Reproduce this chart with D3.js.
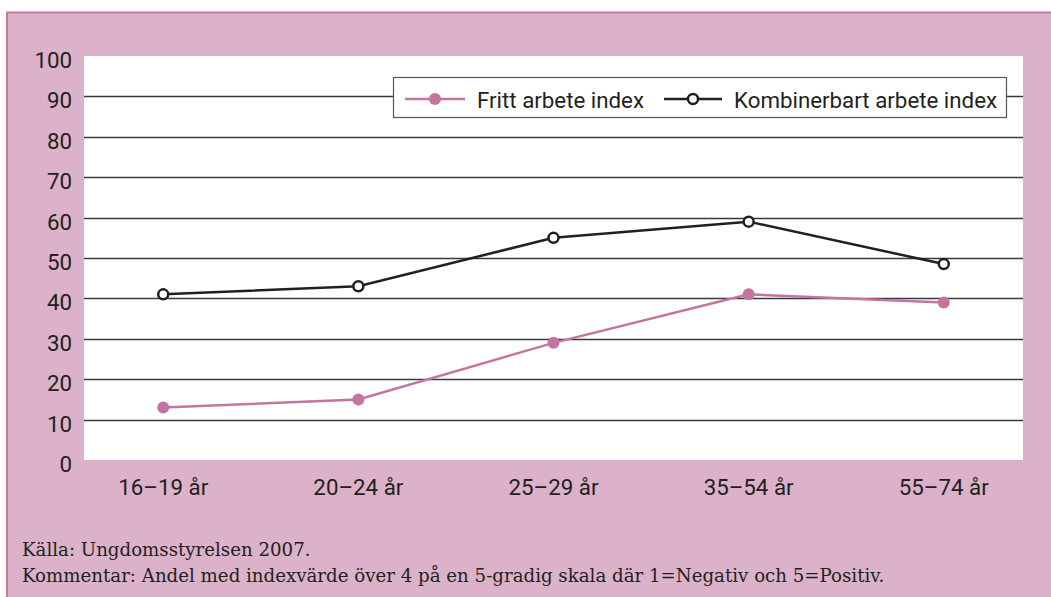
<!DOCTYPE html>
<html>
<head>
<meta charset="utf-8">
<script src="https://cdn.jsdelivr.net/npm/d3@7"></script>
<style>
  html, body { margin: 0; padding: 0; background: #fff; }
  svg { display: block; }
  .sans { font-family: Roboto, "Liberation Sans", sans-serif; }
  .serif { font-family: "DejaVu Serif", "Liberation Serif", serif; }
</style>
</head>
<body>
<svg id="chart" width="1051" height="597"></svg>
<script>
// data
const categories = ["16–19 år", "20–24 år", "25–29 år", "35–54 år", "55–74 år"];
const frittValues = [13, 15, 29, 41, 39];
const kombValues = [41, 43, 55, 59, 48.5];
const yTicks = [0, 10, 20, 30, 40, 50, 60, 70, 80, 90, 100];
const seriesNames = ["Fritt arbete index", "Kombinerbart arbete index"];
const footerLines = [
    "Källa: Ungdomsstyrelsen 2007.",
    "Kommentar: Andel med indexvärde över 4 på en 5-gradig skala där 1=Negativ och 5=Positiv."
];

//colours
const COLS = {
    bg: "#dbb2c9",
    border: "#c9799f",
    pink: "#c5749f",
    dark: "#231f20",
    grid: "#3a3a3a"
};

//dimensions
const plot = { left: 84, right: 1023, top: 56, bottom: 460 };
const labelSize = "22.3px";

const svg = d3.select("#chart");

//frame
svg.append("rect")
    .attr("x", 7).attr("y", 12.5)
    .attr("width", 1060).attr("height", 600)
    .attr("fill", COLS.bg)
    .attr("stroke", COLS.border)
    .attr("stroke-width", 2);

svg.append("rect")
    .attr("x", plot.left).attr("y", plot.top)
    .attr("width", plot.right - plot.left)
    .attr("height", plot.bottom - plot.top)
    .attr("fill", "#fff");

//scales
const x = d3.scalePoint()
    .domain(categories)
    .range([plot.left, plot.right])
    .padding(0.406);

const y = d3.scaleLinear()
    .domain([0, 100])
    .range([plot.bottom, plot.top]);

//gridlines
svg.append("g")
    .selectAll("line")
    .data(yTicks.filter(t => t > 0 && t < 100))
    .join("line")
        .attr("x1", plot.left).attr("x2", plot.right)
        .attr("y1", d => Math.round(y(d)) + 0.5)
        .attr("y2", d => Math.round(y(d)) + 0.5)
        .attr("stroke", COLS.grid)
        .attr("stroke-width", 1.3);

//y axis labels
svg.append("g")
    .attr("class", "sans")
    .selectAll("text")
    .data(yTicks)
    .join("text")
        .attr("x", 72)
        .attr("y", d => y(d) + 12)
        .attr("text-anchor", "end")
        .attr("fill", COLS.dark)
        .style("font-size", labelSize)
        .text(d => d);

//x axis labels
svg.append("g")
    .attr("class", "sans")
    .selectAll("text")
    .data(categories)
    .join("text")
        .attr("x", d => x(d))
        .attr("y", plot.bottom + 35)
        .attr("text-anchor", "middle")
        .attr("fill", COLS.dark)
        .style("font-size", labelSize)
        .text(d => d);

//lines
const line = d3.line()
    .x((d, i) => x(categories[i]))
    .y(d => y(d));

svg.append("path")
    .datum(frittValues)
    .attr("d", line)
    .attr("fill", "none")
    .attr("stroke", COLS.pink)
    .attr("stroke-width", 2.5);

svg.append("g")
    .selectAll("circle")
    .data(frittValues)
    .join("circle")
        .attr("cx", (d, i) => x(categories[i]))
        .attr("cy", d => y(d))
        .attr("r", 6)
        .attr("fill", COLS.pink);

svg.append("path")
    .datum(kombValues)
    .attr("d", line)
    .attr("fill", "none")
    .attr("stroke", COLS.dark)
    .attr("stroke-width", 2.5);

svg.append("g")
    .selectAll("circle")
    .data(kombValues)
    .join("circle")
        .attr("cx", (d, i) => x(categories[i]))
        .attr("cy", d => y(d))
        .attr("r", 5)
        .attr("fill", "#fff")
        .attr("stroke", COLS.dark)
        .attr("stroke-width", 2.5);

//legend
const legendG = svg.append("g").attr("class", "sans");
legendG.append("rect")
    .attr("x", 393.5).attr("y", 77.5)
    .attr("width", 613).attr("height", 40)
    .attr("fill", "#fff")
    .attr("stroke", "#555")
    .attr("stroke-width", 1.2);

const legendItems = [
    { name: seriesNames[0], col: COLS.pink, x0: 405, x1: 465, text: 477, open: false },
    { name: seriesNames[1], col: COLS.dark, x0: 664, x1: 722, text: 734, open: true }
];
const legendY = 99;
legendItems.forEach(item => {
    legendG.append("line")
        .attr("x1", item.x0).attr("x2", item.x1)
        .attr("y1", legendY).attr("y2", legendY)
        .attr("stroke", item.col)
        .attr("stroke-width", 2.5);
    legendG.append("circle")
        .attr("cx", (item.x0 + item.x1) / 2)
        .attr("cy", legendY)
        .attr("r", item.open ? 5 : 6)
        .attr("fill", item.open ? "#fff" : item.col)
        .attr("stroke", item.open ? item.col : "none")
        .attr("stroke-width", 2.5);
    legendG.append("text")
        .attr("x", item.text)
        .attr("y", 107.5)
        .attr("fill", COLS.dark)
        .style("font-size", labelSize)
        .text(item.name);
});

//footer - size the font so the long line fits the reference width
const footerTexts = svg.append("g")
    .attr("class", "serif")
    .selectAll("text")
    .data(footerLines)
    .join("text")
        .attr("x", 22)
        .attr("y", (d, i) => 556 + i * 26)
        .attr("fill", COLS.dark)
        .style("font-size", "18px")
        .text(d => d);
const longW = footerTexts.nodes()[1].getComputedTextLength();
const fitSize = Math.min(20, 18 * 863 / longW);
footerTexts.style("font-size", fitSize + "px");
</script>
</body>
</html>
